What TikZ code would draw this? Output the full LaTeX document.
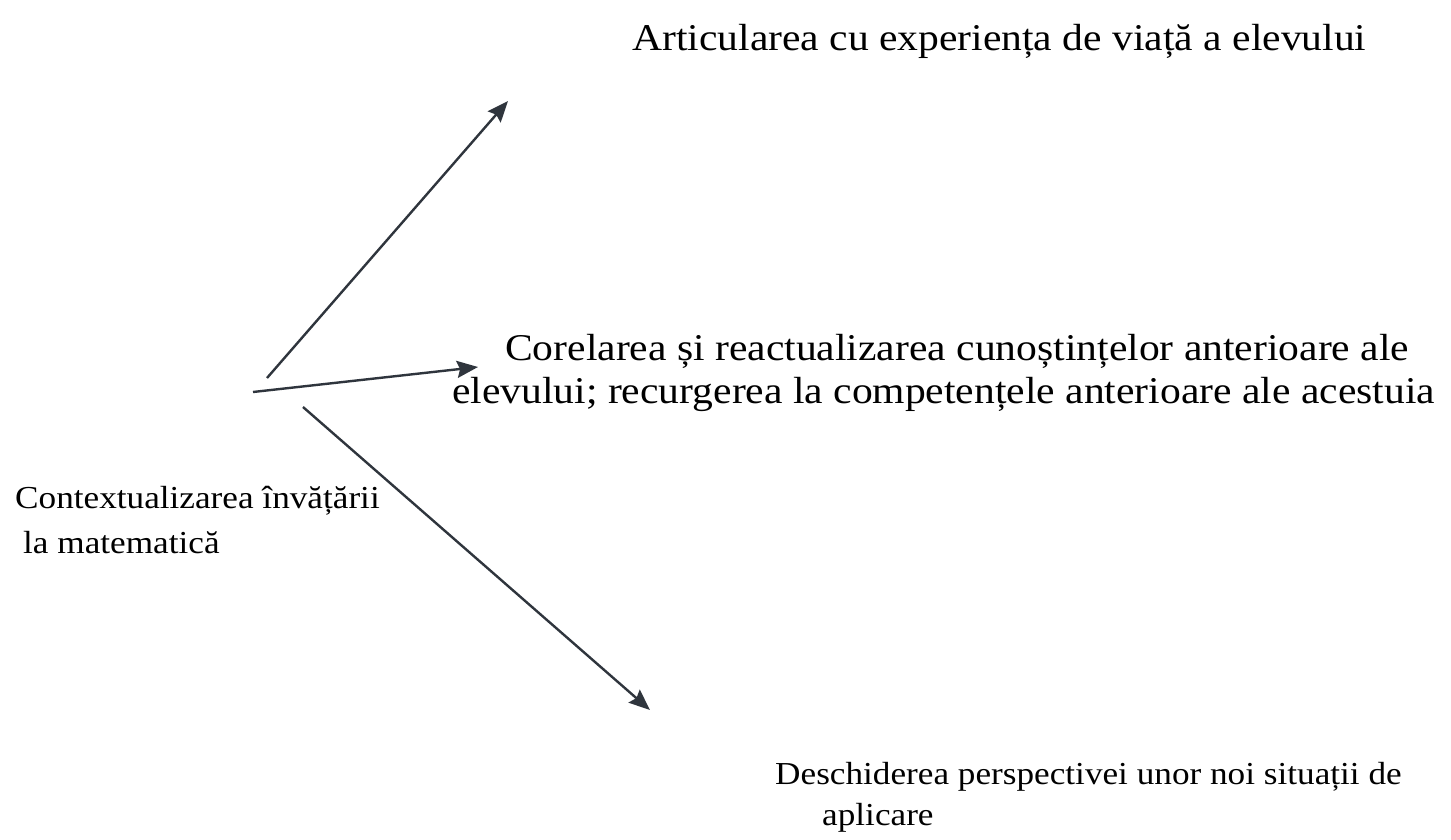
\documentclass[tikz,border=0pt]{standalone}
\usepackage{fontspec}
\setmainfont{Liberation Serif}[FakeStretch=1.1]
\usepackage{xcolor}
\usetikzlibrary{arrows.meta}
\definecolor{arrowgray}{HTML}{2F353D}

\begin{document}
\begin{tikzpicture}[
		x=1pt, y=-1pt,
		>={Stealth[length=21pt, width=17pt, inset=3pt]},
		link/.style={->, draw=arrowgray, fill=arrowgray, line width=2.4pt},
		bigtext/.style={anchor=base west, inner sep=0pt, align=left, font=\fontsize{37.8}{43}\selectfont},
		smalltext/.style={anchor=base west, inner sep=0pt, align=left, font=\fontsize{32}{45}\selectfont}]

	\useasboundingbox (0,0) rectangle (1451,839);

	\node[bigtext] (articulare) at (632,50) {Articularea cu experiența de viață a elevului};
	\node[bigtext] (corelare) at (452,403) {\hspace*{53pt}Corelarea și reactualizarea cunoștințelor anterioare ale\\elevului; recurgerea la competențele anterioare ale acestuia};
	\node[smalltext] (context) at (15,553) {Contextualizarea învățării\\\hspace*{8pt}la matematică};
	\node[smalltext, font=\fontsize{32}{41}\selectfont] (deschidere) at (775,825) {Deschiderea perspectivei unor noi situații de\\\hspace*{47pt}aplicare};

	\coordinate (from_up) at (267,378);
	\coordinate (to_up) at (508,101);
	\coordinate (from_mid) at (253,392);
	\coordinate (to_mid) at (478,367);
	\coordinate (from_down) at (303,407);
	\coordinate (to_down) at (650,710);

	\draw[link] (from_up) -- (to_up);
	\draw[link] (from_mid) -- (to_mid);
	\draw[link] (from_down) -- (to_down);
\end{tikzpicture}
\end{document}
